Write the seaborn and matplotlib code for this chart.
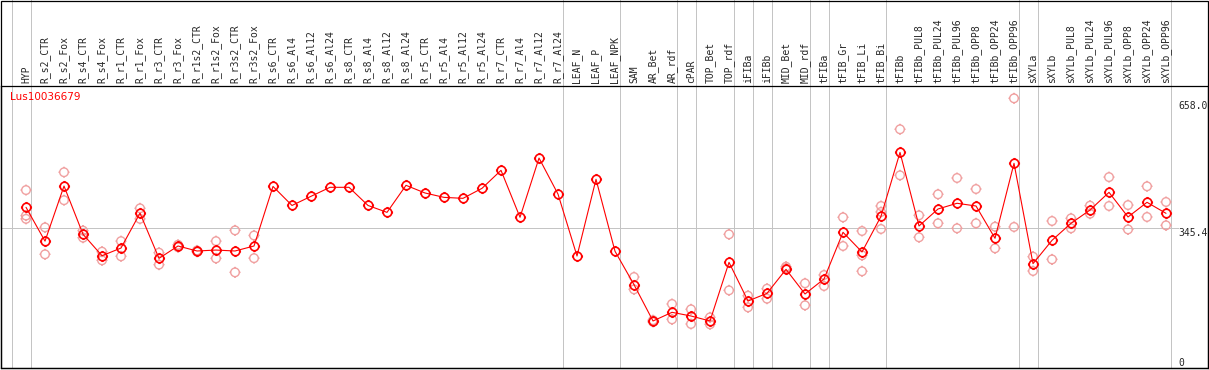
import numpy as np
import pandas as pd
import matplotlib
matplotlib.use("Agg")
import matplotlib.pyplot as plt
import matplotlib.transforms as mtransforms
from matplotlib.path import Path
from matplotlib.patches import Rectangle
import seaborn as sns

# ================================
# Data
# ================================
gene_name = "Lus10036679"

labels = [
    "HYP", "R_s2_CTR", "R_s2_Fox", "R_s4_CTR", "R_s4_Fox", "R_r1_CTR", "R_r1_Fox",
    "R_r3_CTR", "R_r3_Fox", "R_r1s2_CTR", "R_r1s2_Fox", "R_r3s2_CTR", "R_r3s2_Fox",
    "R_s6_CTR", "R_s6_Al4", "R_s6_Al12", "R_s6_Al24", "R_s8_CTR", "R_s8_Al4",
    "R_s8_Al12", "R_s8_Al24", "R_r5_CTR", "R_r5_Al4", "R_r5_Al12", "R_r5_Al24",
    "R_r7_CTR", "R_r7_Al4", "R_r7_Al12", "R_r7_Al24", "LEAF_N", "LEAF_P", "LEAF_NPK",
    "SAM", "AR_Bet", "AR_rdf", "cPAR", "TOP_Bet", "TOP_rdf", "iFIBa", "iFIBb",
    "MID_Bet", "MID_rdf", "tFIBa", "tFIB_Gr", "tFIB_Li", "tFIB_Bi", "tFIBb",
    "tFIBb_PUL8", "tFIBb_PUL24", "tFIBb_PUL96", "tFIBb_OPP8", "tFIBb_OPP24",
    "tFIBb_OPP96", "sXYLa", "sXYLb", "sXYLb_PUL8", "sXYLb_PUL24", "sXYLb_PUL96",
    "sXYLb_OPP8", "sXYLb_OPP24", "sXYLb_OPP96",
]

means = [
    396.5, 313, 449, 330, 277, 296, 382, 270.5, 301, 288.7, 291, 288.7, 301,
    448, 401, 423.6, 445.8, 445.8, 401, 384, 450.7, 431.8, 421, 418.6, 443.3,
    487.7, 371.8, 518, 429, 276.3, 465.6,
    288, 205.6, 116, 137.4, 128.3, 116, 260.7, 165.3, 184.2, 243.4, 182.6,
    219.6, 334.8, 286.2, 374.3, 532,
    350.4, 392.3, 406.4, 399.7, 320, 505, 257.4, 315, 357, 389.8, 433.4,
    372.6, 408.8, 381.6,
]

rep_labels = [
    "HYP", "HYP", "HYP", "R_s2_CTR", "R_s2_CTR", "R_s2_Fox", "R_s2_Fox",
    "R_s4_CTR", "R_s4_CTR", "R_s4_Fox", "R_s4_Fox", "R_r1_CTR", "R_r1_CTR",
    "R_r1_Fox", "R_r1_Fox", "R_r3_CTR", "R_r3_CTR", "R_r3_Fox", "R_r3_Fox",
    "R_r1s2_CTR", "R_r1s2_CTR", "R_r1s2_Fox", "R_r1s2_Fox", "R_r3s2_CTR", "R_r3s2_CTR",
    "R_r3s2_Fox", "R_r3s2_Fox",
    "SAM", "SAM", "AR_Bet", "AR_Bet", "AR_rdf", "AR_rdf", "cPAR", "cPAR",
    "TOP_Bet", "TOP_Bet", "TOP_rdf", "TOP_rdf", "iFIBa", "iFIBa", "iFIBb", "iFIBb",
    "MID_Bet", "MID_Bet", "MID_rdf", "MID_rdf", "tFIBa", "tFIBa",
    "tFIB_Gr", "tFIB_Gr", "tFIB_Li", "tFIB_Li", "tFIB_Li", "tFIB_Bi", "tFIB_Bi", "tFIB_Bi",
    "tFIBb", "tFIBb", "tFIBb_PUL8", "tFIBb_PUL8", "tFIBb_PUL24", "tFIBb_PUL24",
    "tFIBb_PUL96", "tFIBb_PUL96", "tFIBb_OPP8", "tFIBb_OPP8", "tFIBb_OPP24", "tFIBb_OPP24",
    "tFIBb_OPP96", "tFIBb_OPP96", "sXYLa", "sXYLa", "sXYLb", "sXYLb",
    "sXYLb_PUL8", "sXYLb_PUL8", "sXYLb_PUL24", "sXYLb_PUL24", "sXYLb_PUL96", "sXYLb_PUL96",
    "sXYLb_OPP8", "sXYLb_OPP8", "sXYLb_OPP24", "sXYLb_OPP24", "sXYLb_OPP96", "sXYLb_OPP96",
]

rep_values = [
    439, 376, 368, 347, 280.5, 483, 414,
    339, 321.5, 287, 265.7, 313, 275.6,
    394, 368, 284.5, 255, 304, 298,
    290, 287, 313, 270.5, 339.6, 236,
    327, 271,
    224.5, 194, 118, 114, 158, 120, 144.8, 108.6,
    125, 107.8, 329.8, 191.6, 178.4, 149.7, 195.7, 171,
    250, 246, 209, 154.7, 229.5, 202.3,
    371.8, 301, 338, 238.6, 278, 399.7, 343, 385,
    589, 475.4, 376.7, 322.5, 428.6, 357,
    468.8, 344.7, 441.6, 357, 348.7, 295.3,
    665.4, 348, 274.7, 239.3, 362.7, 268,
    369.3, 344.7, 400.5, 380.7, 471, 399.7,
    402, 342, 448.3, 372.6, 409.6, 352,
]

# group separators sit after these columns
group_ends = [-1, 0, 28, 31, 34, 35, 37, 38, 39, 41, 42, 45, 52, 53, 60]

axis_marks = [658.0, 345.4, 0]

# ================================
# Figure
# ================================
sns.set_style("white")
plt.rcParams["font.family"] = ["DejaVu Sans Mono"]
plt.rcParams["path.simplify"] = False

W, H = 1209, 370
fig = plt.figure(figsize=(W / 100, H / 100), dpi=100)
ax = fig.add_axes([1 / W, 2 / H, 1207 / W, 282.5 / H])

# marker: open circle with four small ticks
theta = np.linspace(0, 2 * np.pi, 41)
circle = Path(np.column_stack([np.cos(theta), np.sin(theta)]))
tick_paths = []
for dx, dy in [(0, 1), (0, -1), (1, 0), (-1, 0)]:
    tick_paths.append(Path([(dx, dy), (dx * 1.3, dy * 1.3)], [Path.MOVETO, Path.LINETO]))
ring = Path.make_compound_path(circle, *tick_paths)

mean_df = pd.DataFrame({"col": np.arange(len(labels)), "value": means})
rep_df = pd.DataFrame({"col": [labels.index(l) for l in rep_labels], "value": rep_values})

# separators and reference line (1 px wide)
for g in group_ends:
    ax.axvline(g + 0.237, ymin=0, ymax=1 + 86 / 282.5, color="#c4c4c4", lw=0.72,
               clip_on=False, zorder=0, antialiased=False)
ax.axhline(345.4, xmin=0, xmax=(1178 - 1) / 1207, color="#c4c4c4", lw=0.72, zorder=0,
           antialiased=False)

sns.scatterplot(data=rep_df, x="col", y="value", marker=ring, s=8 ** 2,
                color="#f0a0a0", linewidth=1.0, ax=ax, zorder=2)
pts = ax.collections[-1]
pts.set_facecolor("none")
pts.set_edgecolor("#f0a0a0")

sns.lineplot(data=mean_df, x="col", y="value", color="red", lw=0.8, marker=ring,
             ms=8, mfc="none", mec="red", mew=1.2, ax=ax, zorder=3)

ax.set_xlim(-1.316, 62.21)
ax.set_ylim(0, 697)
ax.set_xlabel("")
ax.set_ylabel("")
ax.set_yticks([])
ax.set_xticks(range(len(labels)))
ax.set_xticklabels(labels, rotation=90, fontsize=7)
ax.xaxis.tick_top()
ax.tick_params(axis="x", length=0, pad=1.5)
for s in ax.spines.values():
    s.set_color("black")
    s.set_linewidth(0.9)

# right side scale labels
trans = mtransforms.blended_transform_factory(ax.transAxes, ax.transData)
for v in axis_marks:
    txt = "0" if v == 0 else f"{v:.1f}"
    ax.text((1178 - 1) / 1207, v, txt, transform=trans, fontsize=7, ha="left",
            va="bottom" if v == 0 else "top")

fig.text(10 / W, 1 - 97 / H, gene_name, color="red", fontsize=7.5,
         family="DejaVu Sans", va="center", ha="left")

# outer frame
fig.add_artist(Rectangle((1 / W, 2 / H), 1207 / W, 367.5 / H, fill=False,
                         ec="black", lw=0.9, transform=fig.transFigure))

fig.savefig("out.png", dpi=100)
